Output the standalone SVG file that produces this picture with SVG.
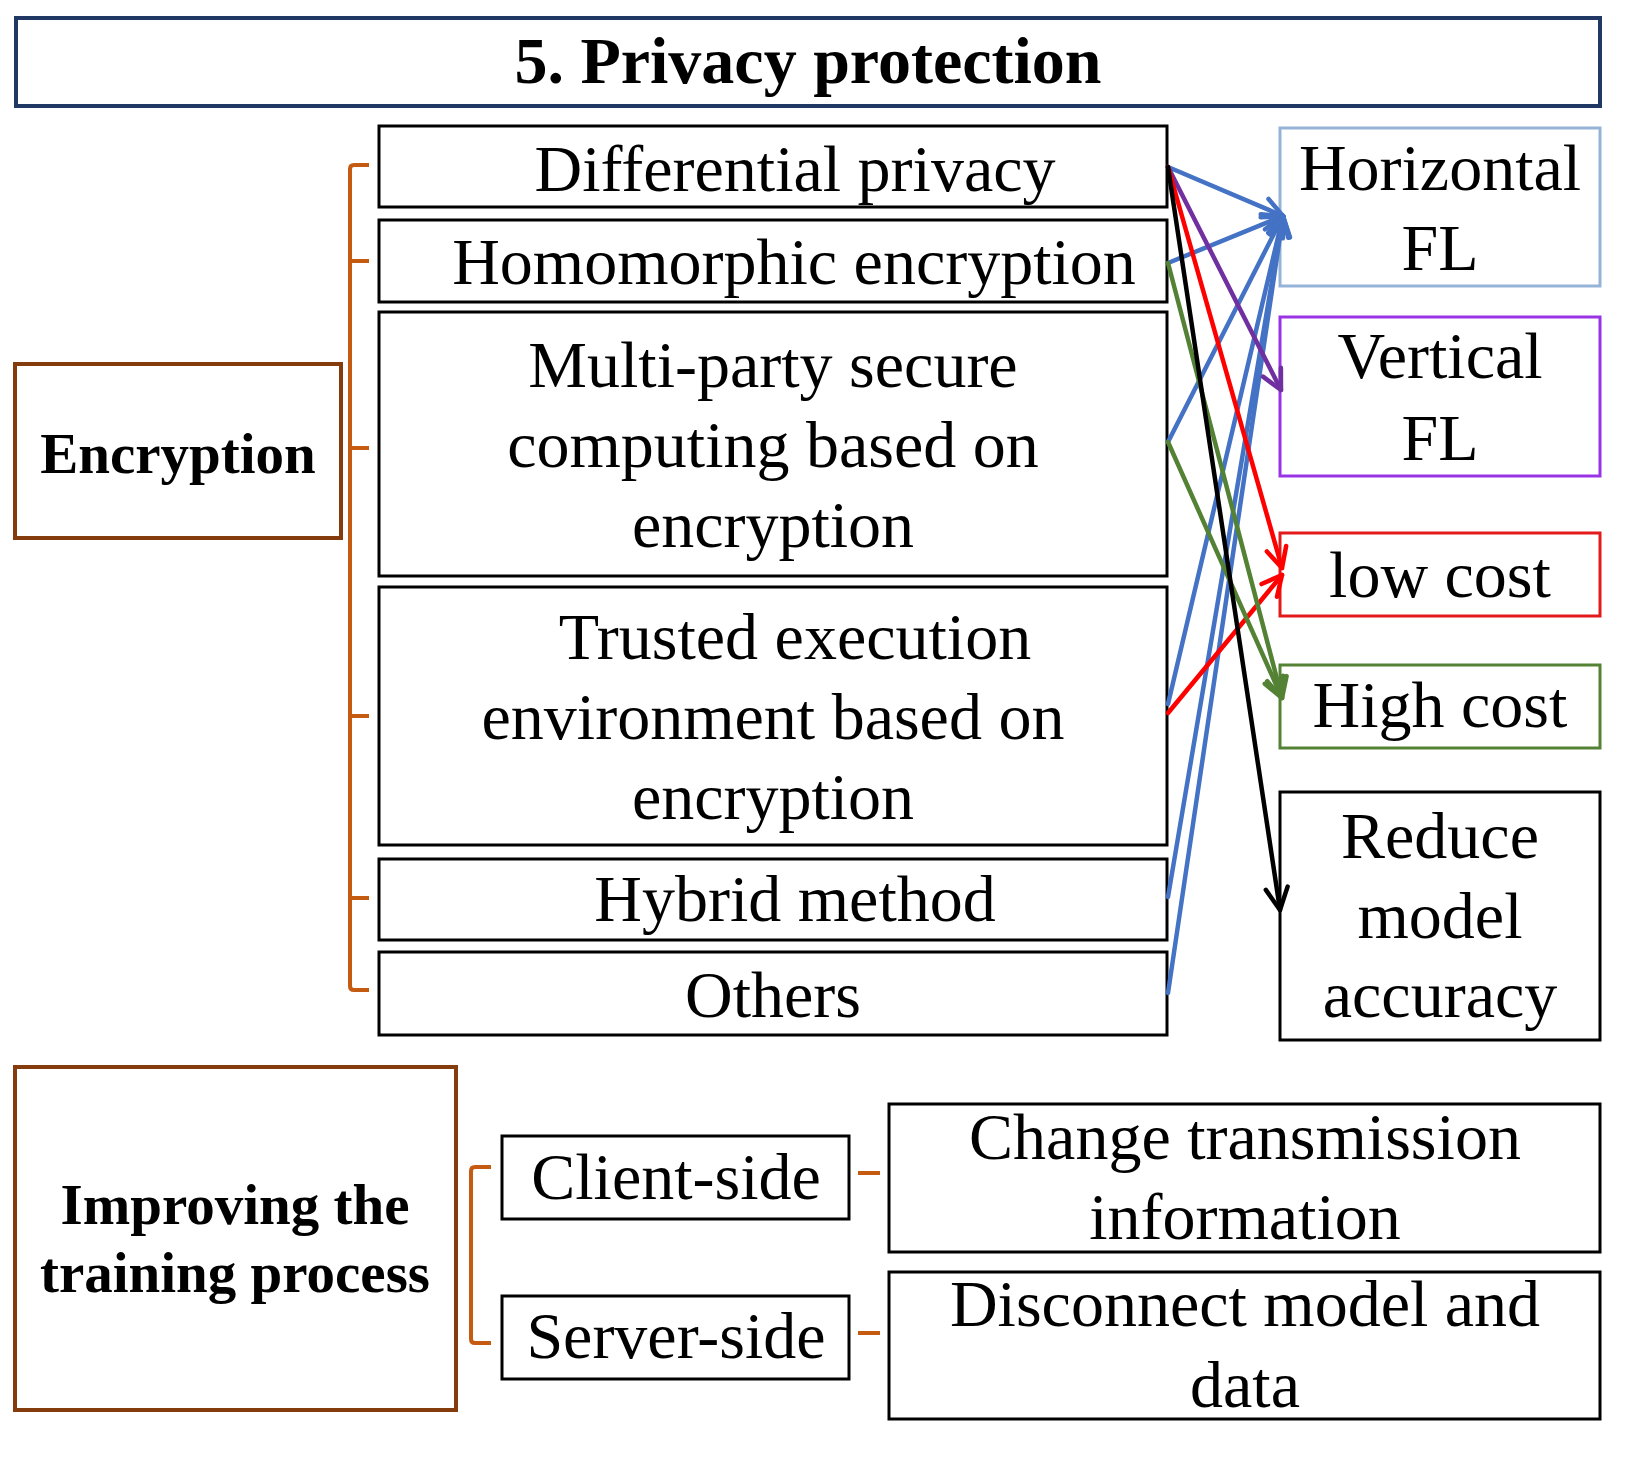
<svg xmlns="http://www.w3.org/2000/svg" width="1640" height="1464" viewBox="0 0 1640 1464">
<style>
  .t{font-family:"Liberation Serif","Times New Roman",serif;font-size:66px;fill:#000;text-anchor:middle}
  .b{font-family:"Liberation Serif","Times New Roman",serif;font-size:57px;font-weight:bold;fill:#000;text-anchor:middle}
  .box{fill:#fff;stroke:#000;stroke-width:3}
  .brown{fill:#fff;stroke:#843C0C;stroke-width:4}
  .br{fill:none;stroke:#C55A11;stroke-width:4;stroke-linejoin:round}
  .c{fill:none;stroke-width:4.5;stroke-linecap:round}
</style>
<defs>
  <marker id="mb" markerUnits="userSpaceOnUse" markerWidth="40" markerHeight="40" refX="0" refY="0" viewBox="-30 -20 40 40" orient="auto"><path d="M-20,-10 L0,0 L-20,10" fill="none" stroke="#4472C4" stroke-width="4.5" stroke-linecap="round" stroke-linejoin="round"/></marker>
  <marker id="mp" markerUnits="userSpaceOnUse" markerWidth="40" markerHeight="40" refX="0" refY="0" viewBox="-30 -20 40 40" orient="auto"><path d="M-20,-10 L0,0 L-20,10" fill="none" stroke="#7030A0" stroke-width="4.5" stroke-linecap="round" stroke-linejoin="round"/></marker>
  <marker id="mr" markerUnits="userSpaceOnUse" markerWidth="40" markerHeight="40" refX="0" refY="0" viewBox="-30 -20 40 40" orient="auto"><path d="M-20,-10 L0,0 L-20,10" fill="none" stroke="#FF0000" stroke-width="4.5" stroke-linecap="round" stroke-linejoin="round"/></marker>
  <marker id="mg" markerUnits="userSpaceOnUse" markerWidth="40" markerHeight="40" refX="0" refY="0" viewBox="-30 -20 40 40" orient="auto"><path d="M-20,-10 L0,0 L-20,10" fill="none" stroke="#548235" stroke-width="4.5" stroke-linecap="round" stroke-linejoin="round"/></marker>
  <marker id="mk" markerUnits="userSpaceOnUse" markerWidth="40" markerHeight="40" refX="0" refY="0" viewBox="-30 -20 40 40" orient="auto"><path d="M-22,-11 L0,0 L-22,11" fill="none" stroke="#000" stroke-width="4.5" stroke-linecap="round" stroke-linejoin="round"/></marker>
</defs>
<rect width="1640" height="1464" fill="#fff"/>

<g id="title">
  <rect x="16" y="18" width="1584" height="88" fill="#fff" stroke="#203864" stroke-width="4"/>
  <text x="808" y="83" style="font-family:'Liberation Serif','Times New Roman',serif;font-size:66px;font-weight:bold;text-anchor:middle">5. Privacy protection</text>
</g>

<g id="encryption">
  <rect class="brown" x="15" y="364" width="326" height="174"/>
  <text class="b" x="178" y="473">Encryption</text>
</g>

<g id="enc-bracket">
  <path class="br" d="M369,165 L354,165 Q350,165 350,169 L350,986 Q350,990 354,990 L369,990"/>
  <path class="br" d="M350,261 L369,261 M350,448 L369,448 M350,716 L369,716 M350,898 L369,898"/>
</g>

<g id="differential">
  <rect class="box" x="379" y="126" width="788" height="81"/>
  <text class="t" x="795" y="191">Differential privacy</text>
</g>
<g id="homomorphic">
  <rect class="box" x="379" y="220" width="788" height="82"/>
  <text class="t" x="794" y="284">Homomorphic encryption</text>
</g>
<g id="multiparty">
  <rect class="box" x="379" y="312" width="788" height="264"/>
  <text class="t" x="773" y="387">Multi-party secure</text>
  <text class="t" x="773" y="467">computing based on</text>
  <text class="t" x="773" y="547">encryption</text>
</g>
<g id="trusted">
  <rect class="box" x="379" y="587" width="788" height="258"/>
  <text class="t" x="795" y="659">Trusted execution</text>
  <text class="t" x="773" y="739">environment based on</text>
  <text class="t" x="773" y="819">encryption</text>
</g>
<g id="hybrid">
  <rect class="box" x="379" y="859" width="788" height="81"/>
  <text class="t" x="795" y="921">Hybrid method</text>
</g>
<g id="others">
  <rect class="box" x="379" y="952" width="788" height="83"/>
  <text class="t" x="773" y="1017">Others</text>
</g>

<g id="horizontal">
  <rect x="1280" y="128" width="320" height="158" fill="#fff" stroke="#95B3D7" stroke-width="3"/>
  <text class="t" x="1440" y="190">Horizontal</text>
  <text class="t" x="1440" y="270">FL</text>
</g>
<g id="vertical">
  <rect x="1280" y="317" width="320" height="159" fill="#fff" stroke="#9933E6" stroke-width="3"/>
  <text class="t" x="1440" y="378">Vertical</text>
  <text class="t" x="1440" y="460">FL</text>
</g>
<g id="lowcost">
  <rect x="1280" y="533" width="320" height="83" fill="#fff" stroke="#E31A1C" stroke-width="3"/>
  <text class="t" x="1440" y="597">low cost</text>
</g>
<g id="highcost">
  <rect x="1280" y="665" width="320" height="83" fill="#fff" stroke="#548235" stroke-width="3"/>
  <text class="t" x="1440" y="727">High cost</text>
</g>
<g id="reduce">
  <rect class="box" x="1280" y="792" width="320" height="248"/>
  <text class="t" x="1440" y="858">Reduce</text>
  <text class="t" x="1440" y="938">model</text>
  <text class="t" x="1440" y="1017">accuracy</text>
</g>

<g id="improving">
  <rect class="brown" x="15" y="1067" width="441" height="343"/>
  <text class="b" x="235" y="1224">Improving the</text>
  <text class="b" x="235" y="1292">training process</text>
</g>
<g id="train-bracket">
  <path class="br" d="M491,1167 L475,1167 Q471,1167 471,1171 L471,1339 Q471,1343 475,1343 L491,1343"/>
</g>
<g id="client">
  <rect class="box" x="502" y="1136" width="347" height="83"/>
  <text class="t" x="676" y="1199">Client-side</text>
</g>
<g id="server">
  <rect class="box" x="502" y="1296" width="347" height="83"/>
  <text class="t" x="676" y="1358">Server-side</text>
</g>
<g id="change">
  <rect class="box" x="889" y="1104" width="711" height="148"/>
  <text class="t" x="1245" y="1159">Change transmission</text>
  <text class="t" x="1245" y="1239">information</text>
</g>
<g id="disconnect">
  <rect class="box" x="889" y="1272" width="711" height="147"/>
  <text class="t" x="1245" y="1326">Disconnect model and</text>
  <text class="t" x="1245" y="1407">data</text>
</g>

<g id="connectors">
  <path class="br" d="M858,1173 L880,1173 M858,1333 L880,1333"/>
  <line class="c" stroke="#4472C4" x1="1168" y1="167" x2="1283" y2="216" marker-end="url(#mb)"/>
  <line class="c" stroke="#4472C4" x1="1168" y1="263" x2="1283" y2="216" marker-end="url(#mb)"/>
  <line class="c" stroke="#4472C4" x1="1168" y1="442" x2="1283" y2="216" marker-end="url(#mb)"/>
  <line class="c" stroke="#4472C4" x1="1168" y1="704" x2="1283" y2="216" marker-end="url(#mb)"/>
  <line class="c" stroke="#4472C4" x1="1168" y1="897" x2="1283" y2="216" marker-end="url(#mb)"/>
  <line class="c" stroke="#4472C4" x1="1168" y1="993" x2="1283" y2="216" marker-end="url(#mb)"/>
  <line class="c" stroke="#7030A0" x1="1168" y1="167" x2="1281" y2="390" marker-end="url(#mp)"/>
  <line class="c" stroke="#FF0000" x1="1168" y1="167" x2="1282" y2="568" marker-end="url(#mr)"/>
  <line class="c" stroke="#FF0000" x1="1168" y1="713" x2="1282" y2="575" marker-end="url(#mr)"/>
  <line class="c" stroke="#548235" x1="1168" y1="263" x2="1282" y2="698" marker-end="url(#mg)"/>
  <line class="c" stroke="#548235" x1="1168" y1="442" x2="1282" y2="698" marker-end="url(#mg)"/>
  <line class="c" stroke="#000" x1="1168" y1="167" x2="1280" y2="910" marker-end="url(#mk)"/>
</g>
</svg>
